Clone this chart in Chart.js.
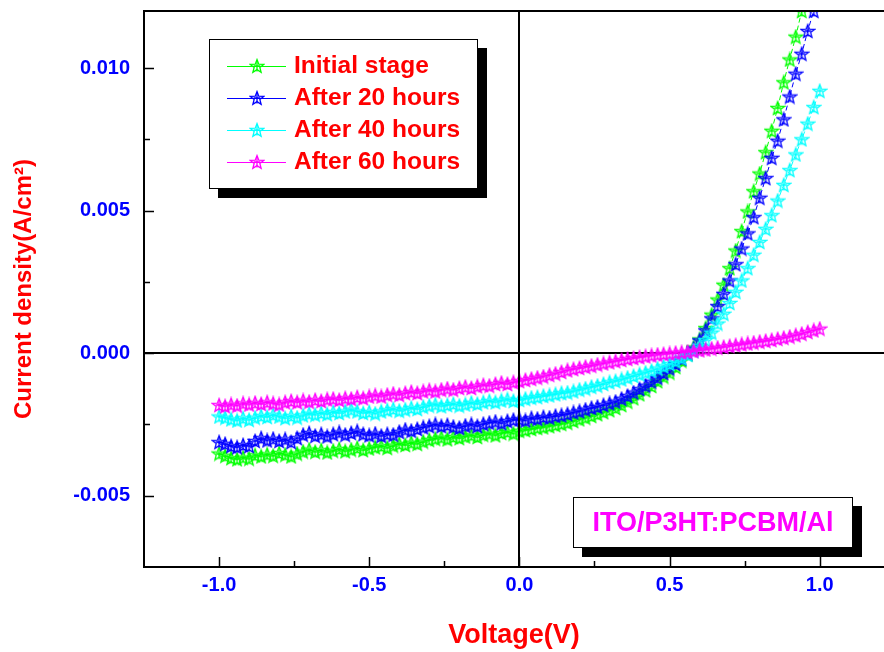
<!DOCTYPE html>
<html><head><meta charset="utf-8">
<script src="https://cdn.jsdelivr.net/npm/chart.js@4/dist/chart.umd.min.js"></script>
<style>html,body{margin:0;padding:0;background:#fff;overflow:hidden}</style>
</head><body>
<canvas id="c" width="884" height="652"></canvas>
<script>
// ---- data ----
const voltage = [
-1.00,-0.98,-0.96,-0.94,-0.92,-0.90,-0.88,-0.86,-0.84,-0.82,
-0.80,-0.78,-0.76,-0.74,-0.72,-0.70,-0.68,-0.66,-0.64,-0.62,
-0.60,-0.58,-0.56,-0.54,-0.52,-0.50,-0.48,-0.46,-0.44,-0.42,
-0.40,-0.38,-0.36,-0.34,-0.32,-0.30,-0.28,-0.26,-0.24,-0.22,
-0.20,-0.18,-0.16,-0.14,-0.12,-0.10,-0.08,-0.06,-0.04,-0.02,
0.00,0.02,0.04,0.06,0.08,0.10,0.12,0.14,0.16,0.18,
0.20,0.22,0.24,0.26,0.28,0.30,0.32,0.34,0.36,0.38,
0.40,0.42,0.44,0.46,0.48,0.50,0.52,0.54,0.56,0.58,
0.60,0.62,0.64,0.66,0.68,0.70,0.72,0.74,0.76,0.78,
0.80,0.82,0.84,0.86,0.88,0.90,0.92,0.94,0.96,0.98,
1.00];

const seriesLabels = ['Initial stage','After 20 hours','After 40 hours','After 60 hours'];
const seriesColors = ['#00ff00','#0000ff','#00ffff','#ff00ff'];

const initialStage = [
-0.00352,-0.00360,-0.00368,-0.00372,-0.00366,-0.00370,-0.00358,-0.00362,-0.00355,-0.00360,
-0.00350,-0.00356,-0.00362,-0.00352,-0.00345,-0.00338,-0.00346,-0.00340,-0.00348,-0.00342,
-0.00336,-0.00344,-0.00338,-0.00332,-0.00340,-0.00334,-0.00330,-0.00326,-0.00332,-0.00324,
-0.00318,-0.00322,-0.00314,-0.00318,-0.00310,-0.00304,-0.00300,-0.00296,-0.00302,-0.00294,
-0.00298,-0.00292,-0.00288,-0.00294,-0.00286,-0.00282,-0.00288,-0.00280,-0.00276,-0.00282,
-0.00272,-0.00270,-0.00266,-0.00262,-0.00260,-0.00256,-0.00252,-0.00248,-0.00244,-0.00238,
-0.00232,-0.00226,-0.00220,-0.00214,-0.00207,-0.00200,-0.00192,-0.00182,-0.00170,-0.00158,
-0.00144,-0.00130,-0.00115,-0.00098,-0.00082,-0.00068,-0.00048,-0.00026,-0.00004,0.00020,
0.00048,0.00088,0.00135,0.00188,0.00240,0.00298,0.00360,0.00428,0.00497,0.00568,
0.00630,0.00705,0.00780,0.00860,0.00950,0.01030,0.01110,0.01200,0.01290];

const after20h = [
-0.00312,-0.00318,-0.00326,-0.00330,-0.00322,-0.00326,-0.00308,-0.00298,-0.00306,-0.00300,
-0.00308,-0.00302,-0.00312,-0.00298,-0.00286,-0.00280,-0.00290,-0.00284,-0.00292,-0.00284,
-0.00278,-0.00286,-0.00280,-0.00274,-0.00284,-0.00288,-0.00282,-0.00290,-0.00284,-0.00286,
-0.00276,-0.00268,-0.00272,-0.00266,-0.00260,-0.00256,-0.00250,-0.00256,-0.00252,-0.00258,
-0.00262,-0.00254,-0.00250,-0.00256,-0.00248,-0.00244,-0.00240,-0.00246,-0.00238,-0.00234,
-0.00232,-0.00236,-0.00228,-0.00230,-0.00224,-0.00226,-0.00220,-0.00218,-0.00214,-0.00208,
-0.00204,-0.00198,-0.00192,-0.00188,-0.00182,-0.00176,-0.00170,-0.00160,-0.00150,-0.00138,
-0.00126,-0.00114,-0.00100,-0.00086,-0.00070,-0.00054,-0.00038,-0.00020,-0.00002,0.00016,
0.00045,0.00080,0.00122,0.00165,0.00208,0.00255,0.00312,0.00367,0.00420,0.00477,
0.00545,0.00614,0.00685,0.00745,0.00820,0.00900,0.00980,0.01050,0.01130,0.01200,
0.01280];

const after40h = [
-0.00222,-0.00226,-0.00232,-0.00236,-0.00228,-0.00234,-0.00226,-0.00220,-0.00224,-0.00216,
-0.00222,-0.00228,-0.00220,-0.00226,-0.00218,-0.00212,-0.00216,-0.00210,-0.00214,-0.00206,
-0.00210,-0.00204,-0.00198,-0.00204,-0.00210,-0.00206,-0.00212,-0.00204,-0.00200,-0.00196,
-0.00202,-0.00198,-0.00192,-0.00196,-0.00188,-0.00184,-0.00180,-0.00186,-0.00182,-0.00178,
-0.00184,-0.00180,-0.00174,-0.00178,-0.00172,-0.00168,-0.00172,-0.00166,-0.00162,-0.00168,
-0.00164,-0.00160,-0.00156,-0.00154,-0.00150,-0.00148,-0.00144,-0.00140,-0.00138,-0.00134,
-0.00128,-0.00124,-0.00118,-0.00114,-0.00108,-0.00102,-0.00098,-0.00092,-0.00086,-0.00080,
-0.00074,-0.00068,-0.00062,-0.00054,-0.00046,-0.00038,-0.00028,-0.00018,-0.00006,0.00008,
0.00026,0.00046,0.00072,0.00104,0.00138,0.00176,0.00215,0.00255,0.00298,0.00345,
0.00390,0.00436,0.00484,0.00535,0.00590,0.00642,0.00697,0.00750,0.00805,0.00863,
0.00920];

const after60h = [
-0.00182,-0.00186,-0.00180,-0.00184,-0.00176,-0.00180,-0.00174,-0.00178,-0.00172,-0.00176,
-0.00180,-0.00172,-0.00168,-0.00172,-0.00166,-0.00170,-0.00164,-0.00168,-0.00162,-0.00160,
-0.00164,-0.00158,-0.00160,-0.00154,-0.00158,-0.00152,-0.00148,-0.00152,-0.00146,-0.00142,
-0.00146,-0.00140,-0.00136,-0.00140,-0.00134,-0.00130,-0.00134,-0.00128,-0.00124,-0.00128,
-0.00122,-0.00118,-0.00122,-0.00116,-0.00112,-0.00114,-0.00108,-0.00104,-0.00108,-0.00102,
-0.00098,-0.00094,-0.00090,-0.00086,-0.00082,-0.00076,-0.00072,-0.00066,-0.00060,-0.00056,
-0.00052,-0.00048,-0.00044,-0.00040,-0.00036,-0.00032,-0.00028,-0.00024,-0.00020,-0.00017,
-0.00014,-0.00011,-0.00008,-0.00005,-0.00003,-0.00001,0.00001,0.00003,0.00005,0.00007,
0.00010,0.00013,0.00016,0.00019,0.00022,0.00025,0.00028,0.00031,0.00034,0.00037,
0.00040,0.00043,0.00046,0.00050,0.00054,0.00058,0.00063,0.00068,0.00074,0.00080,
0.00086];

const xMajorTicks = [-1.0,-0.5,0.0,0.5,1.0];
const xMinorTicks = [-0.75,-0.25,0.25,0.75];
const yMajorTicks = [-0.005,0.000,0.005,0.010];
const yMinorTicks = [-0.0025,0.0025,0.0075];
const annotationText = 'ITO/P3HT:PCBM/Al';

// ---- drawing ----
const FONT = "'Liberation Sans', Arial, sans-serif";

function makeStar(color){
  const s = 16, c = document.createElement('canvas');
  c.width = s; c.height = s;
  const g = c.getContext('2d');
  g.strokeStyle = color; g.lineWidth = 1.3; g.lineJoin = 'miter';
  const cx = s/2, cy = s/2 + 0.6, R = 7, r = 3;
  g.beginPath();
  for (let k = 0; k < 10; k++) {
    const ang = -Math.PI/2 + k*Math.PI/5, rad = (k % 2) ? r : R;
    g.lineTo(cx + rad*Math.cos(ang), cy + rad*Math.sin(ang));
  }
  g.closePath(); g.stroke();
  g.beginPath();
  g.moveTo(cx, cy - R + 1.5); g.lineTo(cx, cy + r + 1.8);
  g.moveTo(cx - 3.4, cy - 0.6); g.lineTo(cx + 3.4, cy - 0.6);
  g.stroke();
  return c;
}
const starImgs = seriesColors.map(makeStar);

const seriesValues = [initialStage, after20h, after40h, after60h];
const datasets = seriesValues.map((vals, k) => ({
  label: seriesLabels[k],
  data: vals.map((v, i) => ({x: voltage[i], y: v})),
  borderColor: seriesColors[k],
  backgroundColor: seriesColors[k],
  borderWidth: 1,
  borderDash: [5, 3],
  pointStyle: starImgs[k],
  pointRadius: 6,
  fill: false,
  tension: 0,
  order: 3 - k
}));

function box(ctx, x1, y1, x2, y2, sh){
  ctx.fillStyle = '#000';
  ctx.fillRect(x1 + sh, y1 + sh, x2 - x1, y2 - y1);
  ctx.fillStyle = '#fff';
  ctx.fillRect(x1, y1, x2 - x1, y2 - y1);
  ctx.strokeStyle = '#000'; ctx.lineWidth = 1;
  ctx.strokeRect(x1 + 0.5, y1 + 0.5, x2 - x1 - 1, y2 - y1 - 1);
}

const decor = {
  id: 'decor',
  beforeDraw(chart){
    const ctx = chart.ctx;
    ctx.save(); ctx.fillStyle = '#fff'; ctx.fillRect(0, 0, chart.width, chart.height); ctx.restore();
  },
  beforeDatasetsDraw(chart){
    const {ctx, chartArea: a, scales: {y}} = chart;
    const y0 = Math.round(y.getPixelForValue(0));
    ctx.save(); ctx.strokeStyle = '#000'; ctx.lineWidth = 2;
    ctx.beginPath(); ctx.moveTo(a.left, y0); ctx.lineTo(a.right, y0); ctx.stroke();
    ctx.restore();
  },
  afterDatasetsDraw(chart){
    const {ctx, chartArea: a, scales: {x, y}} = chart;
    ctx.save();
    ctx.strokeStyle = '#000'; ctx.lineWidth = 2;
    const x0 = Math.round(x.getPixelForValue(0));
    ctx.beginPath(); ctx.moveTo(x0, a.top); ctx.lineTo(x0, a.bottom); ctx.stroke();
    ctx.beginPath();
    ctx.moveTo(a.right, a.top); ctx.lineTo(a.left, a.top); ctx.lineTo(a.left, a.bottom); ctx.lineTo(a.right, a.bottom);
    ctx.stroke();
    ctx.lineWidth = 1.5;
    ctx.beginPath();
    xMajorTicks.forEach(v => { const p = Math.round(x.getPixelForValue(v)) + 0.5; ctx.moveTo(p, a.bottom); ctx.lineTo(p, a.bottom - 10); });
    xMinorTicks.forEach(v => { const p = Math.round(x.getPixelForValue(v)) + 0.5; ctx.moveTo(p, a.bottom); ctx.lineTo(p, a.bottom - 6); });
    yMajorTicks.forEach(v => { const p = Math.round(y.getPixelForValue(v)) + 0.5; ctx.moveTo(a.left, p); ctx.lineTo(a.left + 10, p); });
    yMinorTicks.forEach(v => { const p = Math.round(y.getPixelForValue(v)) + 0.5; ctx.moveTo(a.left, p); ctx.lineTo(a.left + 6, p); });
    ctx.stroke();

    // legend
    box(ctx, 209, 39, 478, 189, 9);
    const rows = [66, 98, 130, 162];
    chart.data.datasets.forEach((ds, k) => {
      const ry = rows[k];
      ctx.strokeStyle = ds.borderColor; ctx.lineWidth = 1; ctx.setLineDash([]);
      ctx.beginPath(); ctx.moveTo(227, ry + 0.5); ctx.lineTo(286, ry + 0.5); ctx.stroke();
      const img = ds.pointStyle;
      ctx.drawImage(img, 257 - img.width/2, ry - img.height/2);
      ctx.save();
      ctx.translate(294, ry + 1);
      ctx.scale(1.065, 1);
      ctx.fillStyle = '#ff0000';
      ctx.font = 'bold 23px ' + FONT;
      ctx.textBaseline = 'middle'; ctx.textAlign = 'left';
      ctx.fillText(ds.label, 0, 0);
      ctx.restore();
    });

    // annotation
    box(ctx, 573, 497, 853, 548, 9);
    ctx.fillStyle = '#ff00ff';
    ctx.font = 'bold 27px ' + FONT;
    ctx.textBaseline = 'middle'; ctx.textAlign = 'center';
    ctx.fillText(annotationText, 713, 524);
    ctx.restore();
  }
};

function noPad(s){ s.paddingTop = 0; s.paddingBottom = 0; s.paddingLeft = 0; s.paddingRight = 0; }

new Chart(document.getElementById('c'), {
  type: 'line',
  data: { datasets },
  options: {
    responsive: false, animation: false, devicePixelRatio: 1,
    layout: { autoPadding: false, padding: { top: 11, right: 0, left: 0, bottom: 0 } },
    plugins: { legend: { display: false }, tooltip: { enabled: false } },
    scales: {
      x: {
        type: 'linear', min: -1.25, max: 1.214,
        afterBuildTicks: s => { s.ticks = xMajorTicks.map(v => ({ value: v })); },
        afterFit: s => { s.height = 85; noPad(s); },
        grid: { display: false, drawTicks: false }, border: { display: false },
        ticks: { color: '#0000ff', font: { family: FONT, size: 20, weight: 'bold' }, padding: 6,
                 autoSkip: false, maxRotation: 0, callback: v => Number(v).toFixed(1) },
        title: { display: true, text: 'Voltage(V)', color: '#ff0000',
                 font: { family: FONT, size: 27, weight: 'bold' }, padding: { top: 4, bottom: 0 } }
      },
      y: {
        type: 'linear', min: -0.0075, max: 0.012,
        afterBuildTicks: s => { s.ticks = yMajorTicks.map(v => ({ value: v })); },
        afterFit: s => { s.width = 144; noPad(s); },
        grid: { display: false, drawTicks: false }, border: { display: false },
        ticks: { color: '#0000ff', font: { family: FONT, size: 20, weight: 'bold' }, padding: 14,
                 autoSkip: false, callback: v => Number(v).toFixed(3) },
        title: { display: true, text: 'Current density(A/cm²)', color: '#ff0000',
                 font: { family: FONT, size: 24, weight: 'bold' }, padding: { top: 10, bottom: 0 } }
      }
    }
  },
  plugins: [decor]
});
</script>
</body></html>
